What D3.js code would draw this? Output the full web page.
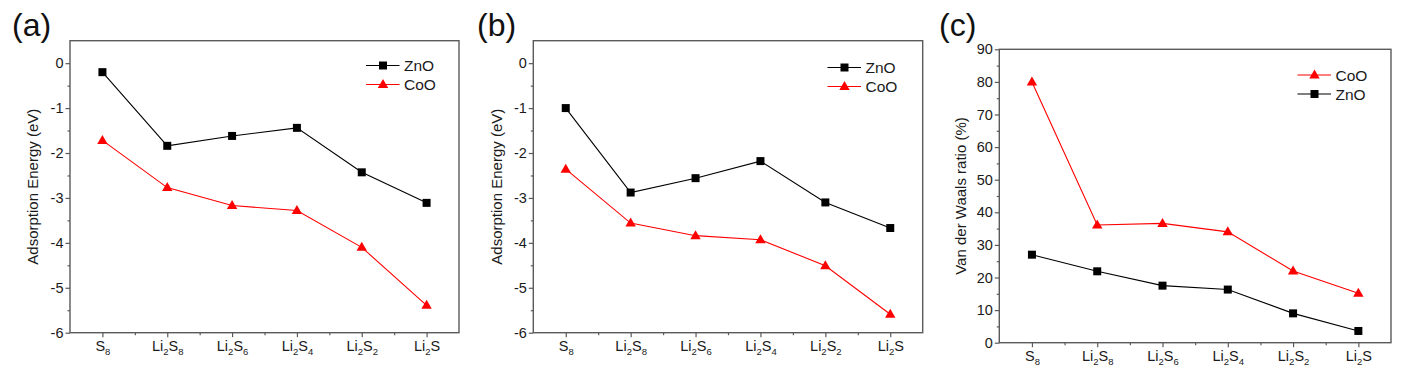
<!DOCTYPE html>
<html>
<head>
<meta charset="utf-8">
<script src="https://cdn.jsdelivr.net/npm/d3@7"></script>
<style>
    body { margin: 0; background: #ffffff; }
    svg { display: block; font-family: "Liberation Sans", Arial, sans-serif; }
    .frame { fill: none; stroke: #5a5a5a; stroke-width: 1.4; }
    .axis path { display: none; }
    .axis line { stroke: #5a5a5a; stroke-width: 1.2; }
    .axis text { fill: #1a1a1a; font-size: 14.5px; font-family: "Liberation Sans", Arial, sans-serif; }
</style>
</head>
<body>
<div id="chart-container"></div>
<script>
// DATA
// ----------------------------------------
const CATEGORIES = ["S8", "Li2S8", "Li2S6", "Li2S4", "Li2S2", "Li2S"];

const ENERGY_ZNO_A = [-0.2, -1.84, -1.62, -1.44, -2.43, -3.11];
const ENERGY_COO_A = [-1.72, -2.77, -3.17, -3.28, -4.10, -5.39];

const ENERGY_ZNO_B = [-1.0, -2.88, -2.56, -2.18, -3.10, -3.67];
const ENERGY_COO_B = [-2.36, -3.56, -3.84, -3.93, -4.51, -5.59];

const VDW_COO = [80.0, 36.1, 36.6, 34.0, 22.0, 15.2];
const VDW_ZNO = [27.0, 21.9, 17.5, 16.3, 9.0, 3.6];

const ENERGY_TICKS = [-6, -5, -4, -3, -2, -1, 0];
const VDW_TICKS = [0, 10, 20, 30, 40, 50, 60, 70, 80, 90];

// STYLE VARIABLES
// ----------------------------------------
const WIDTH = 1416;
const HEIGHT = 374;
const COLOR_ZNO = "#000000";
const COLOR_COO = "#ff0000";

const PANELS = [
    {
        label: "(a)", labelX: 12, left: 70, right: 459, top: 40.7, bottom: 332.7,
        yDomain: [-6, 0.5], ticks: ENERGY_TICKS, minorStep: 0.5,
        title: "Adsorption Energy (eV)", titleX: 33,
        series: [
            { name: "ZnO", values: ENERGY_ZNO_A, color: COLOR_ZNO, marker: "square" },
            { name: "CoO", values: ENERGY_COO_A, color: COLOR_COO, marker: "triangle" }
        ],
        legendX: 366, legendY: 65.5
    },
    {
        label: "(b)", labelX: 477, left: 533.3, right: 922.7, top: 40.7, bottom: 332.7,
        yDomain: [-6, 0.5], ticks: ENERGY_TICKS, minorStep: 0.5,
        title: "Adsorption Energy (eV)", titleX: 497,
        series: [
            { name: "ZnO", values: ENERGY_ZNO_B, color: COLOR_ZNO, marker: "square" },
            { name: "CoO", values: ENERGY_COO_B, color: COLOR_COO, marker: "triangle" }
        ],
        legendX: 827.5, legendY: 67.5
    },
    {
        label: "(c)", labelX: 939, left: 999.3, right: 1391, top: 49.3, bottom: 342.7,
        yDomain: [0, 90], ticks: VDW_TICKS, minorStep: 5,
        title: "Van der Waals ratio (%)", titleX: 961,
        series: [
            { name: "CoO", values: VDW_COO, color: COLOR_COO, marker: "triangle" },
            { name: "ZnO", values: VDW_ZNO, color: COLOR_ZNO, marker: "square" }
        ],
        legendX: 1297.5, legendY: 75
    }
];

// MAIN FUNCTION
// ----------------------------------------
function drawFigure() {
    const svg = d3.select("#chart-container")
        .append("svg")
        .attr("width", WIDTH)
        .attr("height", HEIGHT);

    PANELS.forEach(panel => drawPanel(svg, panel));
}

function drawPanel(svg, panel) {
    const xScale = d3.scaleLinear()
        .domain([0.5, CATEGORIES.length + 0.5])
        .range([panel.left, panel.right]);

    const yScale = d3.scaleLinear()
        .domain(panel.yDomain)
        .range([panel.bottom, panel.top]);

    const g = svg.append("g");

    // Minor ticks
    const xMinor = d3.range(1.5, CATEGORIES.length, 1);
    g.append("g")
        .attr("class", "axis")
        .attr("transform", `translate(0,${panel.bottom})`)
        .call(d3.axisBottom(xScale).tickValues(xMinor).tickSize(2.5).tickSizeOuter(0).tickFormat(""));

    const yMin = panel.yDomain[0];
    const yMax = panel.yDomain[1];
    const yMinor = d3.range(yMin + panel.minorStep, yMax, panel.minorStep * 2);
    g.append("g")
        .attr("class", "axis")
        .attr("transform", `translate(${panel.left},0)`)
        .call(d3.axisLeft(yScale).tickValues(yMinor).tickSize(2.5).tickSizeOuter(0).tickFormat(""));

    // Major x axis with subscript labels
    const xAxis = g.append("g")
        .attr("class", "axis")
        .attr("transform", `translate(0,${panel.bottom})`)
        .call(d3.axisBottom(xScale)
            .tickValues(d3.range(1, CATEGORIES.length + 1))
            .tickSize(4.5)
            .tickSizeOuter(0)
            .tickFormat(""));

    xAxis.selectAll(".tick text")
        .attr("y", 18.5)
        .attr("dy", null)
        .each(function (d) {
            writeFormula(d3.select(this), CATEGORIES[d - 1]);
        });

    // Major y axis
    g.append("g")
        .attr("class", "axis")
        .attr("transform", `translate(${panel.left},0)`)
        .call(d3.axisLeft(yScale)
            .tickValues(panel.ticks)
            .tickSize(4.5)
            .tickSizeOuter(0)
            .tickPadding(2)
            .tickFormat(d3.format("d")))
        .selectAll(".tick text")
        .text(d => d < 0 ? "-" + Math.abs(d) : d);

    // Frame
    g.append("rect")
        .attr("class", "frame")
        .attr("x", panel.left)
        .attr("y", panel.top)
        .attr("width", panel.right - panel.left)
        .attr("height", panel.bottom - panel.top);

    // Series
    const line = d3.line()
        .x((d, i) => xScale(i + 1))
        .y(d => yScale(d));

    panel.series.forEach(s => {
        g.append("path")
            .datum(s.values)
            .attr("fill", "none")
            .attr("stroke", s.color)
            .attr("stroke-width", 1.1)
            .attr("d", line);

        g.append("g")
            .selectAll("path")
            .data(s.values)
            .enter().append("path")
            .attr("transform", (d, i) => `translate(${xScale(i + 1)},${yScale(d)})`)
            .attr("d", markerPath(s.marker))
            .attr("fill", s.color);
    });

    // Legend
    panel.series.forEach((s, i) => {
        const ly = panel.legendY + i * 19;
        g.append("line")
            .attr("x1", panel.legendX)
            .attr("x2", panel.legendX + 33.5)
            .attr("y1", ly)
            .attr("y2", ly)
            .attr("stroke", s.color)
            .attr("stroke-width", 1.1);
        g.append("path")
            .attr("transform", `translate(${panel.legendX + 17},${ly})`)
            .attr("d", markerPath(s.marker))
            .attr("fill", s.color);
        g.append("text")
            .attr("x", panel.legendX + 38)
            .attr("y", ly)
            .attr("dy", "0.36em")
            .style("font-size", "15.5px")
            .style("fill", "#1a1a1a")
            .text(s.name);
    });

    // Y title
    g.append("text")
        .attr("transform", `translate(${panel.titleX},${(panel.top + panel.bottom) / 2}) rotate(-90)`)
        .attr("text-anchor", "middle")
        .attr("dy", "0.35em")
        .style("font-size", "15px")
        .style("fill", "#1a1a1a")
        .text(panel.title);

    // Panel label
    g.append("text")
        .attr("x", panel.labelX)
        .attr("y", 36)
        .style("font-size", "32px")
        .style("fill", "#111")
        .text(panel.label);
}

// HELPER FUNCTIONS
// ----------------------------------------
function writeFormula(textSel, formula) {
    textSel.text(null);
    let lowered = false;
    formula.match(/[A-Za-z]+|\d+/g).forEach(part => {
        const isDigit = /\d/.test(part);
        let shift = 0;
        if (isDigit && !lowered) { shift = 4; lowered = true; }
        if (!isDigit && lowered) { shift = -4; lowered = false; }
        textSel.append("tspan")
            .attr("dy", shift)
            .style("font-size", isDigit ? "9.5px" : "14.5px")
            .text(part);
    });
}

function markerPath(type) {
    if (type === "square") {
        return "M-4,-4H4V4H-4Z";
    }
    return "M0,-5.5L5.2,3.5H-5.2Z";
}

// INIT
// ----------------------------------------
drawFigure();
</script>
</body>
</html>
